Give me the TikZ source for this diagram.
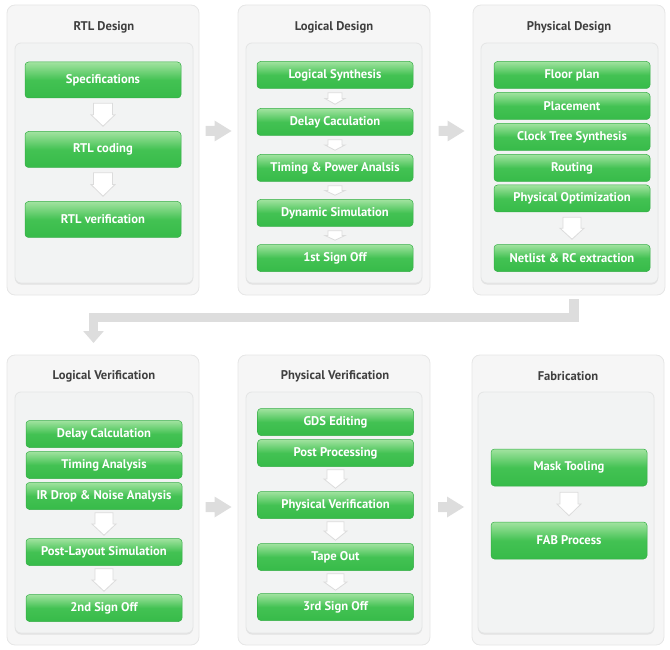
\documentclass[tikz,border=0pt]{standalone}
\usepackage{fontspec}
\setmainfont{PT Sans}
\usetikzlibrary{calc,arrows.meta}
\definecolor{panelfill}{HTML}{F6F6F6}
\definecolor{panelline}{HTML}{E6E6E6}
\definecolor{innerfill}{HTML}{F2F3F3}
\definecolor{innerline}{HTML}{E4E5E5}
\definecolor{shadowc}{HTML}{E2E2E2}
\definecolor{gtop}{HTML}{A2E3A0}
\definecolor{gmid}{HTML}{43C253}
\definecolor{gbot}{HTML}{37BB49}
\definecolor{gline}{HTML}{35AE46}
\definecolor{titlec}{HTML}{404040}
\definecolor{flowgray}{HTML}{DDDDDD}
\definecolor{arrline}{HTML}{DCDCDC}
\tikzset{
 panel/.style={draw=panelline, fill=panelfill, rounded corners=8pt, line width=0.8pt, minimum width=192pt, minimum height=290pt, inner sep=0pt},
 innerp/.style={draw=innerline, fill=innerfill, rounded corners=6pt, line width=0.8pt, inner sep=0pt},
 ishadow/.style={draw=none, fill=shadowc, rounded corners=6pt, inner sep=0pt},
 ptitle/.style={text=titlec, font=\bfseries\fontsize{12.6}{14}\selectfont},
 gbox/.style={draw=gline, line width=0.5pt, rounded corners=3.5pt, top color=gtop, bottom color=gbot, middle color=gmid, minimum width=156pt, text=white, font=\bfseries\fontsize{12.6}{14}\selectfont, inner sep=0pt},
 barrow/.style={draw=arrline, fill=white, line width=0.8pt, line join=miter},
}
% white block arrow between two boxes: from, to, gap, shaft half, head half
\newcommand\dnarrow[5]{%
 \draw[barrow] let \p1=(#1.south), \p2=(#2.north) in
 (\x1-#4,\y1-#3) -- (\x1+#4,\y1-#3) -- (\x1+#4,{(\y1+\y2)/2}) -- (\x1+#5,{(\y1+\y2)/2})
 -- (\x1,\y2+#3) -- (\x1-#5,{(\y1+\y2)/2}) -- (\x1-#4,{(\y1+\y2)/2}) -- cycle;}
% gray arrow between panels: from, to, y-coordinate name
\newcommand\rtarrow[3]{%
 \fill[flowgray] let \p1=(#1.east), \p2=(#2.west), \p3=(#3) in
 ({(\x1+\x2)/2-13pt},\y3+5pt) -- ({(\x1+\x2)/2-4pt},\y3+5pt) -- ({(\x1+\x2)/2-4pt},\y3+10.5pt)
 -- ({(\x1+\x2)/2+13pt},\y3) -- ({(\x1+\x2)/2-4pt},\y3-10.5pt) -- ({(\x1+\x2)/2-4pt},\y3-5pt)
 -- ({(\x1+\x2)/2-13pt},\y3-5pt) -- cycle;}
\begin{document}
\begin{tikzpicture}[x=1pt,y=-1pt]
\useasboundingbox (0,0) rectangle (670,650);
% ---------- outer panels ----------
\node[panel] (p1) at (103,150) {};
\node[panel] (p2) at (334,150) {};
\node[panel] (p3) at (569,150) {};
\node[panel] (p4) at (103,500) {};
\node[panel] (p5) at (334,500) {};
\node[panel] (p6) at (568,500) {};
% ---------- inner panels ----------
\node[ishadow, minimum width=178pt, minimum height=240pt] (s1) at (104,164.5) {};
\node[innerp, minimum width=178pt, minimum height=240pt] (i1) at (104,163) {};
\node[ishadow, minimum width=176pt, minimum height=240pt] (s2) at (334,164.5) {};
\node[innerp, minimum width=176pt, minimum height=240pt] (i2) at (334,163) {};
\node[ishadow, minimum width=177pt, minimum height=240pt] (s3) at (569.5,164.5) {};
\node[innerp, minimum width=177pt, minimum height=240pt] (i3) at (569.5,163) {};
\node[ishadow, minimum width=178pt, minimum height=241pt] (s4) at (104,514) {};
\node[innerp, minimum width=178pt, minimum height=241pt] (i4) at (104,512.5) {};
\node[ishadow, minimum width=176pt, minimum height=241pt] (s5) at (334,514) {};
\node[innerp, minimum width=176pt, minimum height=241pt] (i5) at (334,512.5) {};
\node[ishadow, minimum width=176pt, minimum height=241pt] (s6) at (566,514) {};
\node[innerp, minimum width=176pt, minimum height=241pt] (i6) at (566,512.5) {};
% ---------- titles ----------
\node[ptitle] (t1) at (104,27) {RTL Design};
\node[ptitle] (t2) at (334,27) {Logical Design};
\node[ptitle] (t3) at (569,27) {Physical Design};
\node[ptitle] (t4) at (104,376) {Logical Verification};
\node[ptitle] (t5) at (335,376) {Physical Verification};
\node[ptitle] (t6) at (568,376) {Fabrication};
% ---------- RTL Design ----------
\node[gbox, minimum height=36pt] (a1) at (103,80) {Specifications};
\node[gbox, minimum height=36pt] (a2) at (103,149.5) {RTL coding};
\node[gbox, minimum height=36pt] (a3) at (103,219.5) {RTL verification};
\dnarrow{a1}{a2}{5pt}{9.5pt}{12pt}
\dnarrow{a2}{a3}{5pt}{9.5pt}{12pt}
% ---------- Logical Design ----------
\node[gbox, minimum height=27pt] (b1) at (335,75) {Logical Synthesis};
\node[gbox, minimum height=27pt] (b2) at (335,122) {Delay Caculation};
\node[gbox, minimum height=27pt] (b3) at (335,168) {Timing \& Power Analsis};
\node[gbox, minimum height=27pt] (b4) at (335,213) {Dynamic Simulation};
\node[gbox, minimum height=27pt] (b5) at (335,258) {1st Sign Off};
\dnarrow{b1}{b2}{4pt}{7pt}{10pt}
\dnarrow{b2}{b3}{4pt}{7pt}{10pt}
\dnarrow{b3}{b4}{4pt}{7pt}{10pt}
\dnarrow{b4}{b5}{4pt}{7pt}{10pt}
% ---------- Physical Design ----------
\node[gbox, minimum height=27pt] (c1) at (572,75) {Floor plan};
\node[gbox, minimum height=27pt] (c2) at (572,106) {Placement};
\node[gbox, minimum height=27pt] (c3) at (572,137) {Clock Tree Synthesis};
\node[gbox, minimum height=27pt] (c4) at (572,168) {Routing};
\node[gbox, minimum height=27pt] (c5) at (572,198.5) {Physical Optimization};
\node[gbox, minimum height=27pt] (c6) at (572,258) {Netlist \& RC extraction};
\dnarrow{c5}{c6}{5pt}{9pt}{12pt}
% ---------- Logical Verification ----------
\node[gbox, minimum height=27pt] (d1) at (104,434) {Delay Calculation};
\node[gbox, minimum height=27pt] (d2) at (104,465) {Timing Analysis};
\node[gbox, minimum height=27pt] (d3) at (104,496) {IR Drop \& Noise Analysis};
\node[gbox, minimum height=27pt] (d4) at (104,552) {Post-Layout Simulation};
\node[gbox, minimum height=27pt] (d5) at (104,608) {2nd Sign Off};
\dnarrow{d3}{d4}{3pt}{9pt}{12pt}
\dnarrow{d4}{d5}{3pt}{9pt}{12pt}
% ---------- Physical Verification ----------
\node[gbox, minimum height=27pt] (e1) at (335.5,422) {GDS Editing};
\node[gbox, minimum height=27pt] (e2) at (335.5,453) {Post Processing};
\node[gbox, minimum height=27pt] (e3) at (335.5,505) {Physical Verification};
\node[gbox, minimum height=27pt] (e4) at (335.5,557) {Tape Out};
\node[gbox, minimum height=27pt] (e5) at (335.5,607) {3rd Sign Off};
\dnarrow{e2}{e3}{3pt}{8.5pt}{11.5pt}
\dnarrow{e3}{e4}{3pt}{8.5pt}{11.5pt}
\dnarrow{e4}{e5}{3pt}{8.5pt}{11.5pt}
% ---------- Fabrication ----------
\node[gbox, minimum height=37pt] (f1) at (569,467.5) {Mask Tooling};
\node[gbox, minimum height=37pt] (f2) at (569,540.5) {FAB Process};
\dnarrow{f1}{f2}{6pt}{9pt}{12pt}
% ---------- flow between panels ----------
\coordinate (yt) at (0,131);
\coordinate (yb) at (0,507);
\rtarrow{p1}{p2}{yt}
\rtarrow{p2}{p3}{yt}
\rtarrow{p4}{p5}{yb}
\rtarrow{p5}{p6}{yb}
\coordinate (lstart) at ($(p3.south)+(5,4)$);
\coordinate (lturn) at (93.5,317.5);
\coordinate (lend) at (93.5,343);
\draw[flowgray, line width=9.5pt, -{Triangle[width=20pt,length=12pt]}] (lstart) |- (lturn) -- (lend);
\end{tikzpicture}
\end{document}
